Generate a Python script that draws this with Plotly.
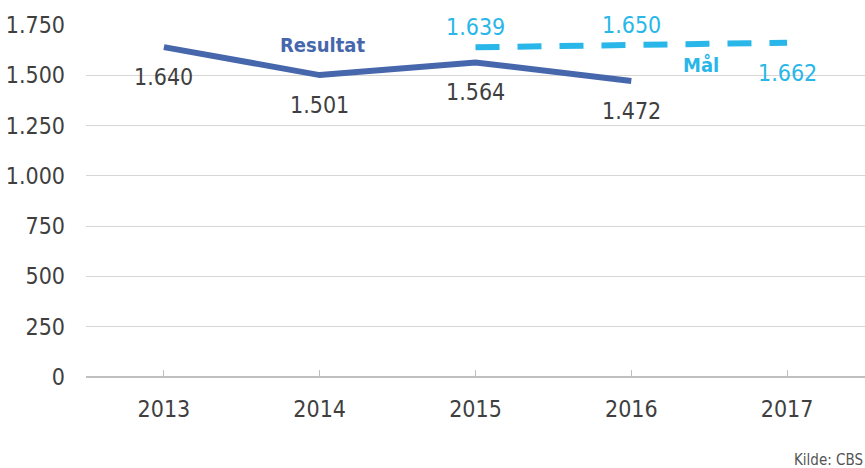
import plotly.graph_objects as go

years = ["2013", "2014", "2015", "2016", "2017"]
resultat_years = ["2013", "2014", "2015", "2016"]
resultat_values = [1640, 1501, 1564, 1472]
maal_years = ["2015", "2016", "2017"]
maal_values = [1639, 1650, 1662]
maal_label_pos = ["above", "above", "below"]
y_ticks = [0, 250, 500, 750, 1000, 1250, 1500, 1750]
source_text = "Kilde: CBS"

FONT = "DejaVu Sans Condensed, Liberation Sans Narrow, sans-serif"
DARK = "#3f3f3f"
BLUE = "#4767ad"
LIGHT = "#29b6e8"
FS = 23


def fmt(v):
    return f"{v:,}".replace(",", ".")


fig = go.Figure()
fig.add_trace(go.Scatter(
    x=resultat_years, y=resultat_values, mode="lines",
    line=dict(color=BLUE, width=6), hoverinfo="skip", showlegend=False,
))
fig.add_trace(go.Scatter(
    x=maal_years, y=maal_values, mode="lines",
    line=dict(color=LIGHT, width=6, dash="24px,18px"), hoverinfo="skip", showlegend=False,
))

annotations = []
for x, v in zip(resultat_years, resultat_values):
    annotations.append(dict(x=years.index(x), y=v, text=fmt(v), showarrow=False, yshift=-30,
                            font=dict(family=FONT, size=FS, color=DARK)))
for x, v, p in zip(maal_years, maal_values, maal_label_pos):
    annotations.append(dict(x=years.index(x), y=v, text=fmt(v), showarrow=False,
                            yshift=20 if p == "above" else -30,
                            font=dict(family=FONT, size=FS, color=LIGHT)))
annotations.append(dict(x=1.015, y=1651, text="<b>Resultat</b>", showarrow=False,
                        font=dict(family=FONT, size=20, color=BLUE)))
annotations.append(dict(x=3.45, y=1551, text="<b>Mål</b>", showarrow=False,
                        font=dict(family=FONT, size=20, color=LIGHT)))
annotations.append(dict(xref="paper", yref="paper", x=1, y=-0.235, xanchor="right",
                        yanchor="middle", text=source_text, showarrow=False,
                        font=dict(family=FONT, size=15, color="#555555")))

fig.update_layout(
    width=865, height=468,
    margin=dict(l=86, r=0, t=25, b=91),
    paper_bgcolor="white", plot_bgcolor="white",
    separators=",.",
    font=dict(family=FONT, size=FS, color=DARK),
    annotations=annotations,
    xaxis=dict(
        type="category", categoryorder="array", categoryarray=years,
        tickvals=years, range=[-0.5, 4.5], automargin=False,
        showgrid=False, showline=False, zeroline=False,
        ticks="inside", ticklen=7, tickcolor="#bfbfbf", tickwidth=1,
        ticklabelstandoff=16,
        tickfont=dict(family=FONT, size=FS, color=DARK),
    ),
    yaxis=dict(
        range=[0, 1750], tickvals=y_ticks, tickformat=",d", automargin=False,
        showgrid=True, gridcolor="#d6d6d6", gridwidth=1,
        zeroline=True, zerolinecolor="#bfbfbf", zerolinewidth=1.5,
        showline=False, ticks="",
        ticklabelstandoff=20,
        tickfont=dict(family=FONT, size=FS, color=DARK),
    ),
)

fig.write_html("out.html", config={"displayModeBar": False},
               post_script="document.body.style.margin='0';")
